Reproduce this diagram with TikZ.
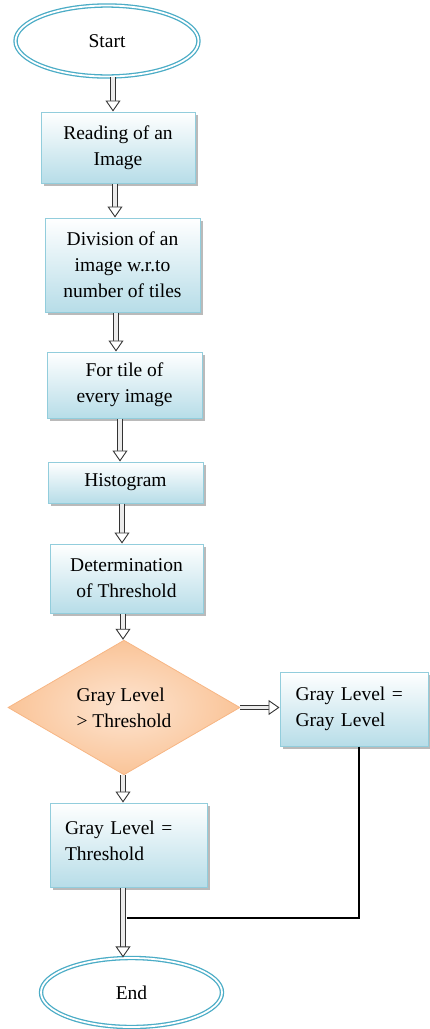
\documentclass[tikz,border=0pt]{standalone}
\usepackage{fontspec}
\setmainfont{Liberation Serif}
\usetikzlibrary{arrows.meta,shapes.geometric,shadows}
\definecolor{boxblue}{RGB}{183,221,232}
\definecolor{boxline}{RGB}{146,205,220}
\definecolor{ovalblue}{RGB}{75,172,198}
\definecolor{peach}{RGB}{250,196,152}
\definecolor{peachline}{RGB}{247,182,132}
\tikzset{
  procbox/.style={draw=boxline, line width=1pt, top color=white, bottom color=boxblue,
    drop shadow={shadow xshift=2.5pt, shadow yshift=-2.5pt, fill=black!45, opacity=0.6},
    align=center, inner sep=0pt},
  oval/.style={ellipse, draw=ovalblue, double=white, double distance=1.8pt, line width=1.3pt, inner sep=0pt},
  decide/.style={diamond, draw=peachline, line width=0.8pt, inner color=peach!45, outer color=peach,
    inner sep=0pt, align=left},
  hollow/.style={draw=black!80, line width=0.9pt, double=black!8, double distance=3.5pt,
    -{Triangle[open, fill=white, length=11pt, width=15pt]}},
}
\begin{document}
\begin{tikzpicture}[x=1pt,y=-1pt, font=\fontsize{19.5}{26}\selectfont]
    \useasboundingbox (0,0) rectangle (429,1029);
    % terminals
    \node[oval, minimum width=183pt, minimum height=71pt] (start) at (107,41) {Start};
    \node[oval, minimum width=181pt, minimum height=69pt] (end) at (131.5,992.5) {End};
    % process steps
    \node[procbox, minimum width=154pt, minimum height=71pt] (read) at (118,147.5) {Reading of an\\Image};
    \node[procbox, minimum width=155pt, minimum height=94pt] (div) at (122.5,265) {Division of an\\image w.r.to\\number of tiles};
    \node[procbox, minimum width=155pt, minimum height=66pt] (tile) at (124.5,385) {For tile of\\every image};
    \node[procbox, minimum width=155pt, minimum height=41pt] (hist) at (125.5,482.5) {Histogram};
    \node[procbox, minimum width=153pt, minimum height=69pt] (det) at (126.5,578.5) {Determination\\of Threshold};
    \node[decide, minimum width=232pt, minimum height=109pt] (dec) at (124,707.5) {Gray Level\\> Threshold};
    \node[procbox, minimum width=148pt, minimum height=74pt, text width=117pt, align=left] (gg) at (354,709) {Gray Level =\\Gray Level};
    \node[procbox, minimum width=157pt, minimum height=84pt, text width=127pt, align=left, text depth=34pt] (gthr) at (128.5,845) {Gray Level =\\Threshold};
    % merge line
    \coordinate (join) at (127,918);
    \draw[line width=1.2pt] ([xshift=5pt]gg.south) |- (join);
    % arrows
    \draw[hollow] ([xshift=6pt]start.south) -- ([xshift=6pt]start.south |- read.north);
    \draw[hollow] ([xshift=-3pt]read.south) -- ([xshift=-3pt]read.south |- div.north);
    \draw[hollow] ([xshift=-6.5pt]div.south) -- ([xshift=-6.5pt]div.south |- tile.north);
    \draw[hollow] ([xshift=-4.5pt]tile.south) -- ([xshift=-4.5pt]tile.south |- hist.north);
    \draw[hollow] ([xshift=-3.5pt]hist.south) -- ([xshift=-3.5pt]hist.south |- det.north);
    \draw[hollow] ([xshift=-3.5pt]det.south) -- ([xshift=-3.5pt]det.south |- dec.north);
    \draw[hollow] (dec.east) -- (dec.east -| gg.west);
    \draw[hollow] ([xshift=-1pt]dec.south) -- ([xshift=-1pt]dec.south |- gthr.north);
    \draw[hollow] ([xshift=-5.5pt]gthr.south) -- ([xshift=-5.5pt]gthr.south |- end.north);
\end{tikzpicture}
\end{document}
